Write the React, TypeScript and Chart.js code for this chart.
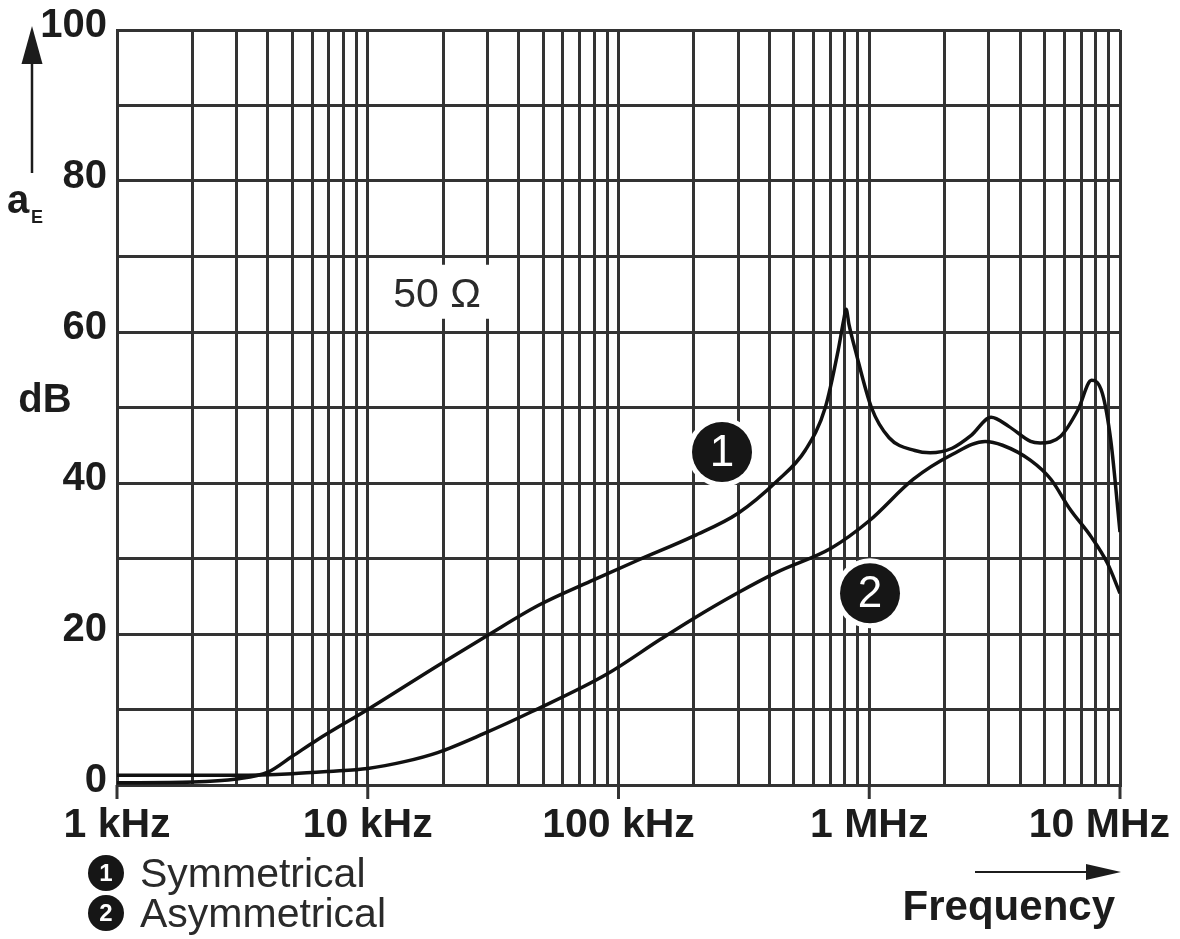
import React, { useEffect, useRef } from "react";
import { Chart, registerables } from "chart.js";

Chart.register(...registerables);

// ---- Data (frequency in kHz, attenuation in dB) ----
const symFreqKHz = [1, 2, 3, 4, 5, 6.3, 10, 19, 30, 48, 80, 120, 200, 300, 430, 555, 668, 752, 790, 809, 830, 880, 1020, 1200, 1520, 1750, 2140, 2550, 3060, 3600, 4400, 4800, 5800, 6800, 7700, 8500, 9200, 10000];
const symDb = [0.3, 0.4, 0.8, 1.7, 3.8, 6, 10, 15.8, 19.8, 23.8, 27.2, 29.8, 33, 36, 40.3, 44.3, 50, 57.6, 61.5, 63, 61, 57.6, 50, 46, 44.3, 44, 44.6, 46.3, 48.7, 47.5, 45.5, 45.3, 46.2, 49.7, 53.6, 51.9, 45.5, 33.5];

const asymFreqKHz = [1, 3, 5, 7, 10, 14, 19, 29, 45, 90, 147, 198, 297, 429, 707, 1000, 1500, 2150, 2900, 3400, 4400, 5300, 6300, 7700, 8900, 10000];
const asymDb = [1.3, 1.3, 1.5, 1.8, 2.2, 3.1, 4.3, 6.8, 9.7, 14.7, 19.3, 22, 25.4, 28.2, 31.4, 35, 40.5, 43.8, 45.5, 45, 43, 40.5, 36.6, 32.8, 29.4, 25.4];

// ---- Axis ticks / labels ----
const gridMultipliers = [1, 2, 3, 4, 5, 6, 7, 8, 9];
const gridDecades = [1e3, 1e4, 1e5, 1e6];
const xMajorValues = [1e3, 1e4, 1e5, 1e6, 1e7];
const xMajorLabels = ["1 kHz", "10 kHz", "100 kHz", "1 MHz", "10 MHz"];
const yLabelValues = [0, 20, 40, 60, 80, 100];

// ---- Annotations (positions in data units) ----
const ohmLabel = { f: 18900, db: 64.8, text: "50 \u03A9" };
const markers = [
  { f: 258700, db: 44.1, text: "1" },
  { f: 1007000, db: 25.4, text: "2" },
];
const legendItems = ["Symmetrical", "Asymmetrical"];

const FONT = '"Liberation Sans", Arial, Helvetica, sans-serif';
const GRID = "#333333";
const INK = "#1c1c1c";

export default function App() {
  const ref = useRef<HTMLCanvasElement | null>(null);

  useEffect(() => {
    document.body.style.margin = "0";
    const canvas = ref.current;
    if (!canvas) return;

    const gridFreqs: number[] = [];
    gridDecades.forEach((d) => gridMultipliers.forEach((m) => gridFreqs.push(m * d)));
    gridFreqs.push(1e7);

    const overlay = {
      id: "overlay",
      beforeDatasetsDraw(chart: any) {
        const ctx = chart.ctx;
        const xs = chart.scales.x;
        const ys = chart.scales.y;
        const cx = xs.getPixelForValue(ohmLabel.f);
        const cy = ys.getPixelForValue(ohmLabel.db);
        ctx.save();
        ctx.fillStyle = "#ffffff";
        ctx.fillRect(cx - 53, cy - 31, 108, 54);
        ctx.fillStyle = "#2a2a2a";
        ctx.font = `41px ${FONT}`;
        ctx.textAlign = "center";
        ctx.textBaseline = "middle";
        ctx.fillText(ohmLabel.text, cx, cy);
        ctx.restore();
      },
      afterDraw(chart: any) {
        const ctx = chart.ctx;
        const xs = chart.scales.x;
        const ys = chart.scales.y;
        const area = chart.chartArea;
        const W = chart.width;
        ctx.save();

        // major ticks below x axis
        ctx.strokeStyle = GRID;
        ctx.lineWidth = 3;
        xMajorValues.forEach((v) => {
          const x = xs.getPixelForValue(v);
          ctx.beginPath();
          ctx.moveTo(x, area.bottom);
          ctx.lineTo(x, area.bottom + 14);
          ctx.stroke();
        });

        // x labels
        ctx.fillStyle = INK;
        ctx.font = `bold 41px ${FONT}`;
        ctx.textBaseline = "alphabetic";
        ctx.textAlign = "center";
        xMajorValues.forEach((v, i) => {
          let x = xs.getPixelForValue(v);
          const w = ctx.measureText(xMajorLabels[i]).width;
          if (x + w / 2 > W - 10) x = W - 10 - w / 2;
          ctx.fillText(xMajorLabels[i], x, area.bottom + 52);
        });

        // y labels
        ctx.font = `bold 40px ${FONT}`;
        ctx.textAlign = "right";
        ctx.textBaseline = "middle";
        yLabelValues.forEach((v) => {
          const y = ys.getPixelForValue(v) - 4;
          ctx.fillText(String(v), area.left - 10, y);
        });

        // y axis title: arrow, a_E, dB
        ctx.strokeStyle = INK;
        ctx.fillStyle = INK;
        ctx.lineWidth = 2.5;
        ctx.beginPath();
        ctx.moveTo(32, 173);
        ctx.lineTo(32, 60);
        ctx.stroke();
        ctx.beginPath();
        ctx.moveTo(32, 26);
        ctx.lineTo(21.5, 64);
        ctx.lineTo(42.5, 64);
        ctx.closePath();
        ctx.fill();

        ctx.textAlign = "left";
        ctx.textBaseline = "alphabetic";
        ctx.font = `bold 40px ${FONT}`;
        ctx.fillText("a", 7, 213);
        ctx.font = `bold 18px ${FONT}`;
        ctx.fillText("E", 31, 223);
        ctx.font = `bold 40px ${FONT}`;
        ctx.textAlign = "center";
        ctx.textBaseline = "middle";
        ctx.fillText("dB", 45, 401);

        // numbered markers on the curves
        markers.forEach((m) => {
          const x = xs.getPixelForValue(m.f);
          const y = ys.getPixelForValue(m.db);
          ctx.fillStyle = "#ffffff";
          ctx.beginPath();
          ctx.arc(x, y, 35, 0, Math.PI * 2);
          ctx.fill();
          ctx.fillStyle = "#161616";
          ctx.beginPath();
          ctx.arc(x, y, 30, 0, Math.PI * 2);
          ctx.fill();
          ctx.fillStyle = "#ffffff";
          ctx.font = `44px ${FONT}`;
          ctx.textAlign = "center";
          ctx.textBaseline = "middle";
          ctx.fillText(m.text, x, y + 2);
        });

        // legend
        legendItems.forEach((t, i) => {
          const cy = 873 + i * 40;
          ctx.fillStyle = "#161616";
          ctx.beginPath();
          ctx.arc(106, cy, 18, 0, Math.PI * 2);
          ctx.fill();
          ctx.fillStyle = "#ffffff";
          ctx.font = `bold 24px ${FONT}`;
          ctx.textAlign = "center";
          ctx.textBaseline = "middle";
          ctx.fillText(String(i + 1), 106, cy + 1);
          ctx.fillStyle = "#2a2a2a";
          ctx.font = `41px ${FONT}`;
          ctx.textAlign = "left";
          ctx.textBaseline = "alphabetic";
          ctx.fillText(t, 140, cy + 14);
        });

        // Frequency arrow + title
        ctx.strokeStyle = INK;
        ctx.fillStyle = INK;
        ctx.lineWidth = 2;
        ctx.beginPath();
        ctx.moveTo(975, 872);
        ctx.lineTo(1092, 872);
        ctx.stroke();
        ctx.beginPath();
        ctx.moveTo(1121, 872);
        ctx.lineTo(1086, 864);
        ctx.lineTo(1086, 880);
        ctx.closePath();
        ctx.fill();
        ctx.font = `bold 42px ${FONT}`;
        ctx.textAlign = "right";
        ctx.textBaseline = "alphabetic";
        ctx.fillText("Frequency", 1115, 920);

        ctx.restore();
      },
    };

    const chart = new Chart(canvas, {
      type: "line",
      data: {
        datasets: [
          {
            label: "Symmetrical",
            data: symFreqKHz.map((f, i) => ({ x: f * 1000, y: symDb[i] })),
            borderColor: "#111111",
            borderWidth: 3.5,
            pointRadius: 0,
            fill: false,
            cubicInterpolationMode: "monotone",
          },
          {
            label: "Asymmetrical",
            data: asymFreqKHz.map((f, i) => ({ x: f * 1000, y: asymDb[i] })),
            borderColor: "#111111",
            borderWidth: 3.5,
            pointRadius: 0,
            fill: false,
            cubicInterpolationMode: "monotone",
          },
        ],
      },
      options: {
        responsive: false,
        animation: false,
        devicePixelRatio: 1,
        layout: { padding: { left: 117, right: 60, top: 30, bottom: 154 } },
        plugins: {
          legend: { display: false },
          tooltip: { enabled: false },
          title: { display: false },
        },
        scales: {
          x: {
            type: "logarithmic",
            min: 1000,
            max: 1e7,
            afterBuildTicks: (scale: any) => {
              scale.ticks = gridFreqs.map((v) => ({ value: v }));
            },
            ticks: { display: false },
            grid: { color: GRID, lineWidth: 3, drawTicks: false },
            border: { display: true, color: GRID, width: 3 },
          },
          y: {
            type: "linear",
            min: 0,
            max: 100,
            ticks: { display: false, stepSize: 10 },
            grid: { color: GRID, lineWidth: 3, drawTicks: false },
            border: { display: true, color: GRID, width: 3 },
          },
        },
      } as any,
      plugins: [overlay],
    });

    return () => chart.destroy();
  }, []);

  return (
    <canvas
      ref={ref}
      width={1180}
      height={939}
      style={{ display: "block", width: 1180, height: 939 }}
    />
  );
}
